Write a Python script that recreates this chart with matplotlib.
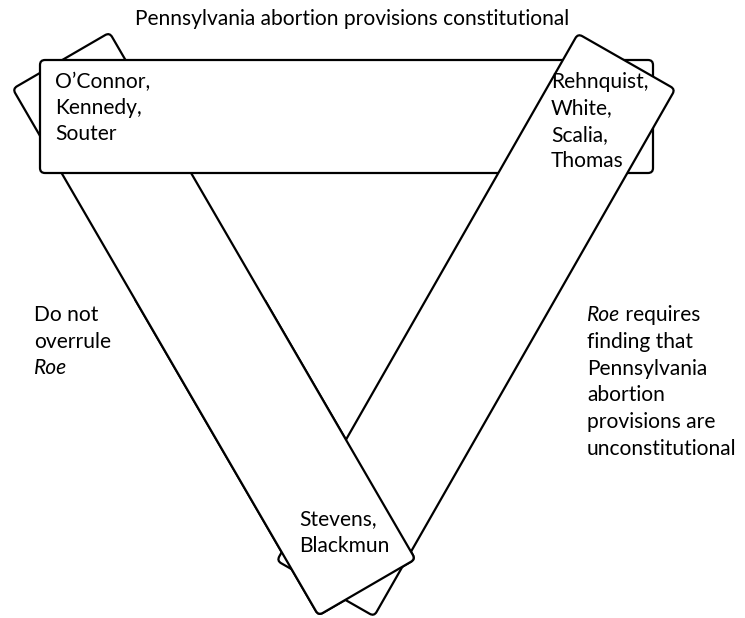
import matplotlib
matplotlib.use("Agg")
import matplotlib.pyplot as plt
from matplotlib.patches import FancyBboxPatch, Rectangle
from matplotlib.transforms import Affine2D

# ---- content ----
title = "Pennsylvania abortion provisions constitutional"
group_left = ["O\u2019Connor,", "Kennedy,", "Souter"]
group_right = ["Rehnquist,", "White,", "Scalia,", "Thomas"]
group_bottom = ["Stevens,", "Blackmun"]
side_left = ["Do not", "overrule", "Roe"]          # last line italic
side_right = ["requires", "finding that", "Pennsylvania", "abortion",
              "provisions are", "unconstitutional"]  # first line preceded by italic "Roe"

# ---- geometry (pixel coordinates, y downward) ----
# (center_x, center_y, length, width, angle_deg)
box_top = (346.5, 116.5, 613, 113, 0)
band_left = (214, 324, 609, 112, 59.86)
band_right = (476, 325, 607, 112, 119.74)

W, H = 745, 618
fig = plt.figure(figsize=(W / 100, H / 100), dpi=100)
ax = fig.add_axes([0, 0, 1, 1])
ax.set_xlim(0, W)
ax.set_ylim(H, 0)
ax.axis("off")

LW = 1.6
FONT = "Lato"


def band(spec, z, clip=None):
    cx, cy, L, Wd, ang = spec
    p = FancyBboxPatch((-L / 2, -Wd / 2), L, Wd,
                       boxstyle="round,pad=0,rounding_size=5",
                       facecolor="white", edgecolor="black", linewidth=LW,
                       zorder=z)
    p.set_transform(Affine2D().rotate_deg(ang).translate(cx, cy) + ax.transData)
    ax.add_patch(p)
    if clip is not None:
        p.set_clip_path(clip)
    return p


band(band_left, 1)
band(box_top, 2)
band(band_right, 3)
clip_rect = Rectangle((0, 300), W, H - 300, transform=ax.transData)
band(band_left, 4, clip=clip_rect)

# ---- font size fitted to title width ----
fs0 = 14
t = ax.text(352, 25, title, fontsize=fs0, family=FONT, ha="center", va="baseline", zorder=10)
fig.canvas.draw()
r = fig.canvas.get_renderer()
w = t.get_window_extent(r).width
fs = fs0 * 438 / w
t.set_fontsize(fs)


def lines(x, y0, step, items, z=10, italic_idx=()):
    for i, s in enumerate(items):
        ax.text(x, y0 + i * step, s, fontsize=fs, family=FONT,
                style="italic" if i in italic_idx else "normal",
                ha="left", va="baseline", zorder=z)


lines(55, 88, 26.2, group_left)
lines(551, 88, 26.3, group_right)
lines(299, 525, 26.7, group_bottom)
lines(34, 321, 26.6, side_left, italic_idx=(2,))

# right side: first line "Roe requires" with italic Roe
t1 = ax.text(587, 321, "Roe", fontsize=fs, family=FONT, style="italic",
             ha="left", va="baseline", zorder=10)
fig.canvas.draw()
bb = t1.get_window_extent(fig.canvas.get_renderer())
x_end = ax.transData.inverted().transform((bb.x1, 0))[0]
ax.text(x_end, 321, " " + side_right[0], fontsize=fs, family=FONT,
        ha="left", va="baseline", zorder=10)
lines(587, 321 + 26.8, 26.8, side_right[1:])

fig.savefig("out.png", dpi=100, facecolor="white")
